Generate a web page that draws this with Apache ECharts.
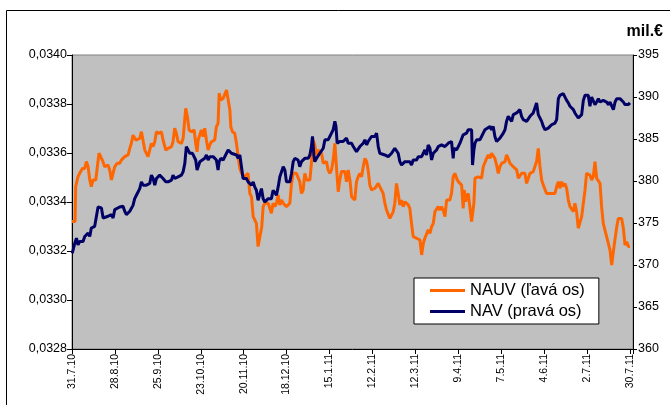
<!DOCTYPE html>
<html>
<head>
<meta charset="utf-8">
<script src="https://cdn.jsdelivr.net/npm/echarts@6/dist/echarts.min.js"></script>
<style>
  html, body { margin: 0; padding: 0; background: #fff; }
  #main { width: 670px; height: 405px; }
</style>
</head>
<body>
<div id="main"></div>
<script>
// x labels, one every 28 days from 31.7.10
var tickLabels = ['31.7.10', '28.8.10', '25.9.10', '23.10.10', '20.11.10', '18.12.10', '15.1.11',
  '12.2.11', '12.3.11', '9.4.11', '7.5.11', '4.6.11', '2.7.11', '30.7.11'];

// NAUV (left axis) - day offset from 31.7.10 and value
var nauvDay = [0, 2, 2.4, 3.9, 5, 6.1, 6.8, 8.3, 9.4, 10.5, 11.6, 12.6, 13.7, 15.5, 16.3, 17.6, 18.5, 19.8, 21.3, 22.4,
  23.5, 24.6, 25.7, 26.3, 27.9, 29.4, 31.1, 32.2, 34.4, 36.6, 37.7, 38.7, 39.8, 41.6, 44.2, 45.3, 46.4, 47.5, 49.6, 50.7,
  51.8, 52.9, 54, 55.1, 56.8, 58.3, 59.4, 61.2, 62.7, 64.9, 65.9, 67, 68.1, 69.2, 71.4, 72.5, 74.2, 75.3, 76.4, 77.9,
  79.7, 80.7, 81.6, 82.3, 83.4, 84.4, 85.5, 86.6, 87.7, 88.8, 89.9, 91, 93.1, 94.2, 95.3, 96, 97.1, 98.6, 99.7, 100.8,
  101.9, 103, 103.6, 104.7, 106.2, 107.3, 108.4, 109.5, 110.6, 112.1, 113.4, 114.9, 116, 117.1, 118.2, 119.2, 120.3, 121.4, 122.5, 123.8,
  124.7, 125.8, 126.9, 128, 129, 130.1, 131.2, 132.3, 133.4, 134.5, 135.6, 136.7, 137.8, 139.9, 141, 142.1, 143.2, 144.3, 145.4, 146.4,
  147.5, 148.6, 149.7, 150.8, 151.9, 153, 154.1, 155.2, 156.2, 157.3, 158.4, 159.5, 160.6, 161.7, 162.8, 163.9, 165, 166, 167.1, 168.2,
  169.3, 170.4, 171.5, 172.6, 173.7, 174.7, 175.8, 176.9, 178, 179.1, 180.2, 181.3, 182.4, 183.5, 184.5, 185.6, 186.7, 187.8, 188.9, 190,
  191.1, 192.2, 193.2, 194.3, 195.4, 197.6, 198.7, 199.8, 200.8, 201.9, 203, 204.1, 205.2, 206.3, 207.4, 208.5, 209.6, 210.6, 211.7, 212.8,
  213.9, 215, 216.1, 217.2, 219.4, 220.4, 221.5, 222.6, 224.8, 227, 228.1, 229.2, 230.2, 231.3, 232.4, 233.5, 234.6, 235.7, 236.8, 237.9,
  238.9, 240, 241.1, 242.2, 243.3, 244.4, 245.5, 246.5, 247.6, 248.7, 249.8, 250.9, 252, 253.1, 254.2, 255.2, 255.9, 256.8, 257.4, 258.5,
  259.6, 260.7, 261.3, 262.2, 262.9, 264, 265, 266.1, 267.2, 268.3, 269.4, 270.5, 271.6, 272.7, 273.7, 274.8, 275.9, 277, 278.1, 279.2,
  280.3, 281.4, 282.5, 283.5, 284.6, 285.7, 287.9, 289, 290.1, 291.2, 292.2, 293.3, 294.4, 295.5, 296.6, 297.7, 298.8, 300.9, 302, 303.1,
  304.2, 305.3, 306.4, 307.5, 308.6, 309.6, 310.7, 312.9, 314, 315.1, 316.2, 317.3, 318.3, 319.4, 320.5, 321.6, 322.7, 323.8, 324.9, 326,
  327.1, 328.1, 329.2, 330.3, 331.4, 332.5, 333.6, 334.7, 335.7, 336.8, 337.9, 339, 340.1, 341.2, 342.3, 343.4, 344.5, 345.5, 346.6, 347.7,
  348.8, 349.9, 351, 352.1, 352.7, 353.6, 355.4, 356.4, 357.5, 358.6, 359.7, 360.8, 361.9, 363, 364];
var nauvValue = [0.033320, 0.033320, 0.033463, 0.033503, 0.033517, 0.033510, 0.033537, 0.033537, 0.033565, 0.033544, 0.033490, 0.033463, 0.033490, 0.033490, 0.033497, 0.033599, 0.033599, 0.033571, 0.033544, 0.033537,
  0.033551, 0.033531, 0.033490, 0.033483, 0.033544, 0.033558, 0.033558, 0.033571, 0.033585, 0.033592, 0.033619, 0.033639, 0.033673, 0.033653, 0.033660, 0.033687, 0.033680, 0.033612, 0.033585, 0.033592,
  0.033639, 0.033626, 0.033646, 0.033687, 0.033680, 0.033687, 0.033653, 0.033612, 0.033619, 0.033626, 0.033646, 0.033701, 0.033680, 0.033646, 0.033639, 0.033660, 0.033782, 0.033748, 0.033694, 0.033687,
  0.033694, 0.033639, 0.033605, 0.033653, 0.033653, 0.033694, 0.033667, 0.033701, 0.033653, 0.033612, 0.033633, 0.033646, 0.033653, 0.033707, 0.033721, 0.033844, 0.033816, 0.033823, 0.033816, 0.033857,
  0.033857, 0.033776, 0.033707, 0.033687, 0.033680, 0.033639, 0.033585, 0.033537, 0.033517, 0.033503, 0.033510, 0.033517, 0.033435, 0.033422, 0.033340, 0.033347, 0.033313, 0.033218, 0.033211, 0.033299,
  0.033381, 0.033395, 0.033388, 0.033395, 0.033401, 0.033354, 0.033395, 0.033381, 0.033395, 0.033429, 0.033388, 0.033408, 0.033395, 0.033381, 0.033381, 0.033395, 0.033476, 0.033517, 0.033524, 0.033517,
  0.033517, 0.033483, 0.033435, 0.033449, 0.033517, 0.033490, 0.033483, 0.033490, 0.033558, 0.033653, 0.033633, 0.033592, 0.033612, 0.033612, 0.033599, 0.033558, 0.033558, 0.033565, 0.033531, 0.033517,
  0.033531, 0.033571, 0.033639, 0.033537, 0.033442, 0.033490, 0.033524, 0.033517, 0.033524, 0.033483, 0.033531, 0.033490, 0.033422, 0.033429, 0.033408, 0.033483, 0.033503, 0.033517, 0.033503, 0.033544,
  0.033578, 0.033565, 0.033531, 0.033469, 0.033449, 0.033456, 0.033449, 0.033476, 0.033463, 0.033449, 0.033435, 0.033395, 0.033367, 0.033367, 0.033333, 0.033340, 0.033361, 0.033395, 0.033476, 0.033435,
  0.033388, 0.033408, 0.033381, 0.033401, 0.033388, 0.033374, 0.033313, 0.033259, 0.033252, 0.033245, 0.033184, 0.033231, 0.033252, 0.033259, 0.033286, 0.033272, 0.033299, 0.033313, 0.033361, 0.033367,
  0.033381, 0.033367, 0.033381, 0.033367, 0.033340, 0.033408, 0.033415, 0.033408, 0.033435, 0.033503, 0.033517, 0.033497, 0.033483, 0.033476, 0.033469, 0.033374, 0.033449, 0.033401, 0.033422, 0.033435,
  0.033429, 0.033320, 0.033313, 0.033395, 0.033497, 0.033497, 0.033503, 0.033503, 0.033497, 0.033544, 0.033544, 0.033578, 0.033592, 0.033578, 0.033599, 0.033605, 0.033578, 0.033551, 0.033517, 0.033544,
  0.033558, 0.033551, 0.033565, 0.033592, 0.033578, 0.033558, 0.033544, 0.033551, 0.033531, 0.033497, 0.033497, 0.033517, 0.033524, 0.033517, 0.033476, 0.033483, 0.033517, 0.033524, 0.033524, 0.033565,
  0.033619, 0.033544, 0.033490, 0.033469, 0.033469, 0.033435, 0.033429, 0.033435, 0.033442, 0.033435, 0.033463, 0.033483, 0.033456, 0.033483, 0.033463, 0.033476, 0.033456, 0.033408, 0.033381, 0.033374,
  0.033361, 0.033395, 0.033361, 0.033293, 0.033286, 0.033340, 0.033395, 0.033449, 0.033517, 0.033510, 0.033510, 0.033490, 0.033503, 0.033565, 0.033497, 0.033490, 0.033476, 0.033381, 0.033313, 0.033313,
  0.033259, 0.033252, 0.033204, 0.033143, 0.033136, 0.033218, 0.033299, 0.033333, 0.033340, 0.033333, 0.033293, 0.033224, 0.033238, 0.033218, 0.033218];

// NAV in mil. EUR (right axis)
var navDay = [0.2, 1.1, 1.8, 2.9, 3.9, 5, 6.1, 7.2, 8.3, 9.4, 10.5, 11.6, 12.6, 13.7, 14.8, 15.9, 17, 18.1, 19.2, 20.3,
  21.3, 23.5, 24.6, 25.7, 26.8, 27.9, 29, 31.1, 32.2, 33.3, 34.4, 35.5, 36.6, 37.7, 38.7, 39.8, 40.9, 42, 43.1, 44.2,
  45.3, 46.4, 47.5, 48.5, 49.6, 50.7, 51.8, 52.9, 54, 55.1, 56.2, 57.2, 58.3, 59.4, 61.2, 62.7, 63.8, 64.9, 65.9, 67,
  69.2, 70.3, 71.4, 72.5, 73.6, 74.6, 75.7, 76.8, 78.6, 79.7, 80.7, 81.6, 82.3, 83.4, 84.4, 86.6, 87.7, 88.8, 89.9, 91,
  92.1, 93.1, 94.2, 95.3, 96, 97.1, 98.6, 99.7, 100.8, 101.9, 103, 104, 105.1, 107.3, 108.4, 109.5, 110.6, 111.6, 112.7, 113.8,
  114.9, 116, 117.1, 118.2, 119.2, 120.3, 121.4, 122.5, 123.6, 124.7, 125.8, 128, 129, 130.1, 131.2, 132.3, 133.4, 134.5, 135.6, 136.7,
  137.8, 138.9, 139.9, 142.1, 143.2, 144.3, 145.4, 147.5, 148.6, 149.7, 151.9, 153, 154.1, 155.2, 156.2, 156.9, 157.8, 158.4, 159.5, 161.7,
  162.8, 163.9, 165, 166, 167.1, 168.2, 169.3, 170.4, 171.5, 172.2, 173, 173.7, 174.7, 176.9, 178, 179.1, 180.2, 181.3, 182.4, 183.5,
  184.5, 185.6, 186.7, 187.8, 188.9, 190, 191.1, 192.2, 193.2, 194.3, 195.4, 196.5, 197.6, 198.7, 199.8, 200.8, 201.9, 204.1, 206.3, 208.5,
  209.6, 210.6, 211.7, 212.8, 213.9, 215, 217.2, 218.3, 220.4, 221.5, 222.6, 223.7, 224.8, 225.9, 228.1, 229.2, 230.2, 231.3, 232.4, 233.5,
  234.6, 235.7, 237.9, 238.9, 240, 241.1, 242.2, 243.3, 244.4, 245.5, 246.5, 247.6, 248.7, 249.2, 249.8, 250.9, 252, 253.1, 254.2, 255.2,
  256.3, 257.4, 258.5, 260.7, 261.3, 262.2, 262.9, 264, 265, 266.1, 267.2, 268.3, 269.4, 270.5, 272.7, 273.7, 274.8, 275.9, 277, 278.1,
  279.2, 280.3, 281.4, 282.5, 283.5, 284.6, 285.7, 286.8, 287.9, 290.1, 291.2, 292.2, 293.3, 294.4, 295.5, 296.6, 297.7, 298.8, 299.9, 300.9,
  302, 303.1, 304.2, 305.3, 306.4, 307.5, 308.6, 309.6, 310.7, 311.8, 312.9, 314, 315.1, 316.2, 317.3, 318.3, 319.4, 320.5, 321.6, 322.7,
  323.8, 324.9, 326, 327.1, 328.1, 329.2, 330.3, 331.4, 332.5, 333.6, 334.7, 335.7, 336.8, 337.9, 339, 340.1, 341.2, 342.3, 343.4, 344.5,
  345.5, 346.6, 348.8, 349.9, 351, 352.1, 353.2, 354.3, 355.4, 356.4, 357.5, 358.6, 359.7, 360.8, 361.9, 363, 364];
var navValue = [371.4, 371.6, 372.6, 373.2, 372.4, 372.8, 373.0, 372.8, 373.4, 373.2, 373.8, 373.4, 374.4, 374.4, 374.6, 374.8, 376.9, 377.1, 376.8, 375.6,
  375.8, 375.8, 375.6, 376.0, 375.6, 376.6, 376.8, 376.9, 377.1, 377.0, 376.4, 376.0, 376.0, 376.4, 376.6, 377.1, 377.9, 378.3, 378.5, 379.1,
  379.9, 379.5, 379.3, 379.5, 379.4, 379.7, 380.7, 380.3, 379.5, 380.3, 380.5, 380.7, 380.5, 380.3, 379.9, 379.9, 379.7, 380.1, 380.7, 380.3,
  380.5, 380.5, 380.7, 381.1, 382.1, 384.1, 383.7, 383.3, 383.3, 383.5, 382.5, 381.3, 381.7, 382.3, 382.5, 382.7, 383.1, 382.5, 382.9, 382.7,
  382.9, 382.9, 382.5, 381.3, 382.3, 382.7, 382.5, 382.5, 383.3, 383.7, 383.5, 383.3, 383.1, 383.1, 382.7, 383.1, 382.9, 380.3, 380.1, 380.3,
  379.9, 379.7, 379.5, 379.9, 379.3, 378.9, 377.7, 377.7, 379.1, 377.9, 377.5, 377.9, 378.1, 377.9, 378.9, 378.7, 378.3, 379.3, 380.5, 381.1,
  381.7, 381.3, 379.9, 379.9, 380.9, 382.3, 382.7, 382.5, 381.7, 382.3, 382.7, 382.9, 382.7, 383.1, 384.1, 385.3, 383.1, 382.3, 382.7, 383.3,
  383.3, 383.9, 384.9, 385.1, 384.9, 385.3, 385.7, 386.1, 387.1, 386.5, 384.5, 384.3, 384.7, 384.7, 384.9, 385.1, 384.5, 384.3, 384.5, 384.1,
  383.9, 383.5, 383.7, 384.1, 384.1, 384.5, 384.9, 384.3, 384.7, 384.9, 385.3, 385.5, 385.3, 385.7, 384.1, 383.3, 383.1, 383.1, 382.9, 383.3,
  383.1, 383.9, 384.1, 383.3, 382.3, 381.9, 382.3, 382.5, 382.3, 381.9, 382.5, 382.7, 382.5, 382.9, 382.9, 383.3, 383.7, 383.1, 384.3, 383.9,
  382.5, 383.3, 383.7, 384.1, 383.9, 384.3, 384.5, 384.1, 384.3, 384.5, 384.3, 384.7, 382.7, 383.9, 384.1, 383.7, 384.1, 384.5, 384.3, 385.5,
  385.3, 385.7, 386.1, 386.1, 381.9, 383.7, 384.5, 384.9, 385.1, 384.9, 385.3, 385.7, 386.1, 386.3, 386.5, 386.1, 386.5, 385.3, 384.7, 384.7,
  385.1, 385.3, 385.7, 386.1, 387.1, 387.7, 387.7, 387.1, 387.9, 388.1, 388.3, 388.5, 387.7, 387.3, 387.5, 387.1, 387.3, 387.7, 387.9, 388.1,
  388.3, 389.3, 387.9, 387.7, 387.1, 386.5, 386.1, 385.9, 386.3, 386.5, 386.7, 386.9, 386.9, 387.3, 389.8, 390.2, 390.0, 390.4, 390.4, 389.6,
  389.3, 388.9, 388.7, 388.5, 388.1, 388.3, 387.5, 387.3, 387.9, 389.6, 390.2, 390.4, 390.2, 388.9, 390.0, 390.2, 389.1, 389.4, 389.8, 389.4,
  389.3, 389.6, 389.4, 389.1, 389.4, 389.3, 388.5, 389.4, 389.8, 390.0, 389.8, 389.6, 389.4, 389.1, 389.3, 389.1, 389.3];

var myChart = echarts.init(document.getElementById('main'));

function pairs(xs, ys) {
  var out = [];
  for (var i = 0; i < xs.length; i++) out.push([xs[i], ys[i]]);
  return out;
}

var font = 'Arial, "Liberation Sans", sans-serif';

var option = {
  animation: false,
  backgroundColor: '#ffffff',
  textStyle: { fontFamily: font },
  grid: {
    left: 72, right: 37, top: 55, bottom: 56,
    show: true,
    backgroundColor: '#c0c0c0',
    borderColor: '#808080',
    borderWidth: 1
  },
  graphic: [{
    type: 'rect',
    shape: { x: 6.5, y: 10.5, width: 700, height: 420 },
    style: { fill: 'none', stroke: '#000', lineWidth: 1 },
    silent: true
  }, {
    type: 'text',
    right: 7,
    top: 24,
    style: { text: 'mil.€', font: 'bold 16px ' + font, fill: '#000' }
  }],
  legend: {
    left: 414,
    top: 278,
    orient: 'vertical',
    backgroundColor: '#ffffff',
    borderColor: '#000',
    borderWidth: 1,
    padding: [4, 14, 4, 16],
    itemGap: 4,
    itemWidth: 35,
    itemHeight: 3,
    icon: 'rect',
    textStyle: { fontSize: 16.5, color: '#000', fontFamily: font },
    data: ['NAUV (ľavá os)', 'NAV (pravá os)']
  },
  xAxis: {
    type: 'value',
    min: 0,
    max: 366,
    interval: 28,
    splitLine: { show: false },
    axisLine: { lineStyle: { color: '#000', width: 1 } },
    axisTick: { show: true, length: 5, lineStyle: { color: '#000' } },
    axisLabel: {
      rotate: 90,
      margin: 5,
      fontSize: 10.5,
      color: '#000',
      formatter: function (v) { return v % 28 === 0 ? tickLabels[v / 28] : ''; }
    }
  },
  yAxis: [{
    type: 'value',
    position: 'left',
    min: 0.0328,
    max: 0.0340,
    interval: 0.0002,
    splitLine: { show: false },
    axisLine: { show: true, lineStyle: { color: '#000', width: 1 } },
    axisTick: { show: true, length: 5, lineStyle: { color: '#000' } },
    axisLabel: {
      margin: 5,
      fontSize: 12.5,
      color: '#000',
      formatter: function (v) { return v.toFixed(4).replace('.', ','); }
    }
  }, {
    type: 'value',
    position: 'right',
    min: 360,
    max: 395,
    interval: 5,
    splitLine: { show: false },
    axisLine: { show: true, lineStyle: { color: '#000', width: 1 } },
    axisTick: { show: true, length: 4, lineStyle: { color: '#000' } },
    axisLabel: { margin: 5, fontSize: 12.5, color: '#000' }
  }],
  series: [{
    name: 'NAUV (ľavá os)',
    type: 'line',
    yAxisIndex: 0,
    symbol: 'none',
    color: '#ff6600',
    lineStyle: { width: 3, color: '#ff6600' },
    data: pairs(nauvDay, nauvValue)
  }, {
    name: 'NAV (pravá os)',
    type: 'line',
    yAxisIndex: 1,
    symbol: 'none',
    color: '#000066',
    lineStyle: { width: 3, color: '#000066' },
    data: pairs(navDay, navValue)
  }]
};

myChart.setOption(option);
</script>
</body>
</html>
